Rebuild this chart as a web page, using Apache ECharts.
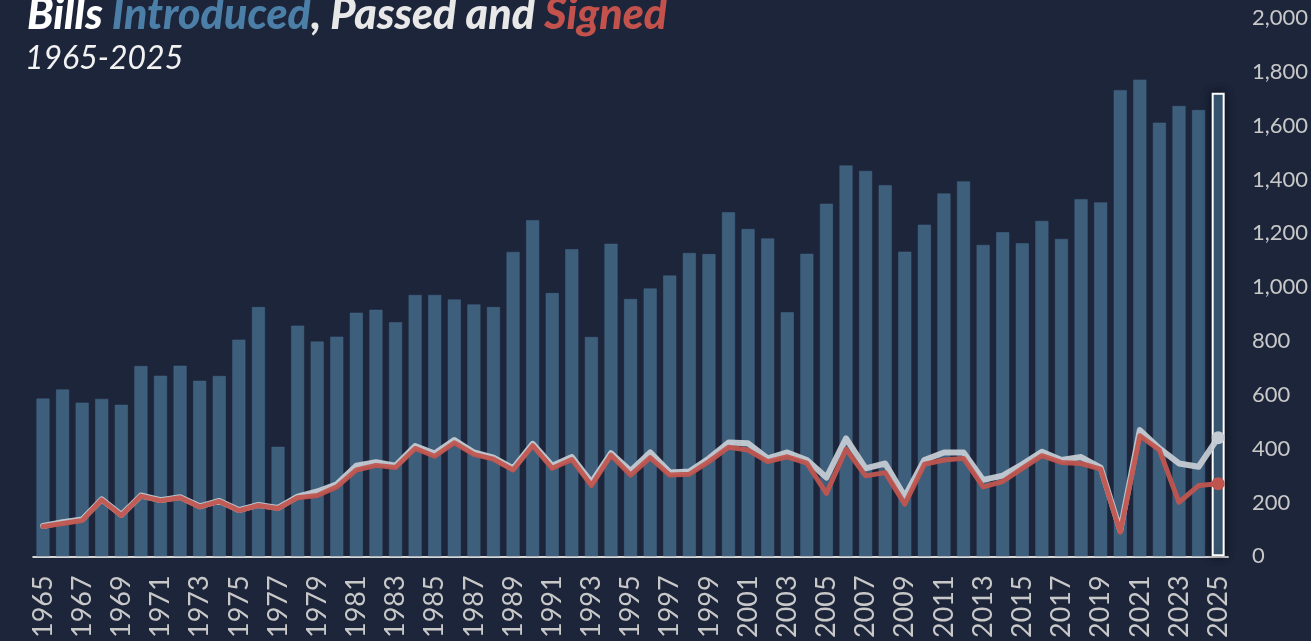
<!DOCTYPE html>
<html>
<head>
<meta charset="utf-8">
<script src="https://cdn.jsdelivr.net/npm/echarts@6/dist/echarts.min.js"></script>
<style>
html,body{margin:0;padding:0;background:#1c253a;}
#chart{width:1311px;height:641px;}
</style>
</head>
<body>
<div id="chart"></div>
<script>
const years = ['1965','1966','1967','1968','1969','1970','1971','1972','1973','1974','1975','1976','1977','1978','1979','1980','1981','1982','1983','1984','1985','1986','1987','1988','1989','1990','1991','1992','1993','1994','1995','1996','1997','1998','1999','2000','2001','2002','2003','2004','2005','2006','2007','2008','2009','2010','2011','2012','2013','2014','2015','2016','2017','2018','2019','2020','2021','2022','2023','2024','2025'];
const introduced = [586,620,571,585,563,707,671,708,652,670,805,926,407,857,798,816,905,916,870,971,971,954,936,926,1131,1249,978,1141,815,1161,956,995,1043,1127,1123,1278,1216,1181,907,1124,1310,1452,1432,1379,1132,1232,1348,1393,1157,1204,1163,1246,1179,1327,1315,1732,1771,1611,1673,1658,1722];
const passed = [113,127,137,212,154,226,209,220,186,206,172,191,180,222,241,268,337,350,337,410,382,432,386,367,327,418,337,369,275,383,317,386,312,315,364,423,420,364,386,358,293,438,327,345,222,358,386,386,284,300,342,389,358,369,330,96,469,401,345,333,441];
const signed = [111,122,133,210,152,224,207,218,184,204,170,189,178,218,226,258,321,338,330,401,372,422,379,361,321,411,327,360,263,376,302,367,302,305,352,405,395,352,370,346,234,398,299,311,194,342,358,364,258,278,327,374,349,345,324,90,448,395,201,263,270];
const titleText = {bills:'Bills ', intro:'Introduced', passed:', Passed and ', signed:'Signed'};
const subtitleText = '1965-2025';

const chart = echarts.init(document.getElementById('chart'));
const last = years.length - 1;
const barData = introduced.map((v,i)=> i===last ? {value:v, itemStyle:{borderColor:'#ffffff', borderWidth:2, shadowBlur:10, shadowColor:'rgba(0,0,0,0.6)'}} : v);
const withEnd = (arr, color) => arr.map((v,i)=> i===last ? {value:v, symbol:'circle', symbolSize:13, itemStyle:{color:color}} : v);
const tf = {fontFamily:'Lato', fontStyle:'italic', fontWeight:900, fontSize:43};

chart.setOption({
  backgroundColor:'#1c253a',
  animation:false,
  graphic:[
    {type:'text', left:25, top:43, style:{text:subtitleText, fill:'#f2f2f2', font:'italic 400 32px Lato'}}
  ],
  title:{
    left:22, top:-11,
    text:'{b|'+titleText.bills+'}{i|'+titleText.intro+'}{p|'+titleText.passed+'}{s|'+titleText.signed+'}',
    textStyle:{
      rich:{
        b:Object.assign({color:'#ffffff'}, tf),
        i:Object.assign({color:'#4c7fa8'}, tf),
        p:Object.assign({color:'#e8e8e8'}, tf),
        s:Object.assign({color:'#c4524c'}, tf)
      }
    }
  },
  grid:{left:33.2, right:81.5, top:18, bottom:83},
  xAxis:{
    type:'category', data:years, boundaryGap:true,
    axisLine:{lineStyle:{color:'#d6d6d6', width:2}},
    axisTick:{show:false},
    axisLabel:{rotate:90, interval:1, color:'#c8c8c8', fontFamily:'Lato', fontSize:27, margin:19}
  },
  yAxis:{
    type:'value', position:'right', min:0, max:2000, interval:200,
    axisLine:{show:false}, axisTick:{show:false}, splitLine:{show:false},
    axisLabel:{color:'#c8c8c8', fontFamily:'Lato', fontSize:22, margin:24, align:'left',
      formatter:v=>v.toLocaleString('en-US')}
  },
  series:[
    {name:'Introduced', type:'bar', data:barData, barWidth:13,
      itemStyle:{color:'#3d5f7b', borderColor:'#46688a', borderWidth:0.5}, z:1},
    {name:'Passed', type:'line', data:withEnd(passed,'#c6ccd3'), symbol:'none', showSymbol:true,
      lineStyle:{color:'rgba(200,206,213,0.92)', width:6, join:'round', cap:'round'}, z:2},
    {name:'Signed', type:'line', data:withEnd(signed,'#c0554f'), symbol:'none', showSymbol:true,
      lineStyle:{color:'rgba(192,85,79,0.95)', width:5, join:'round', cap:'round'}, z:3}
  ]
});
</script>
</body>
</html>
